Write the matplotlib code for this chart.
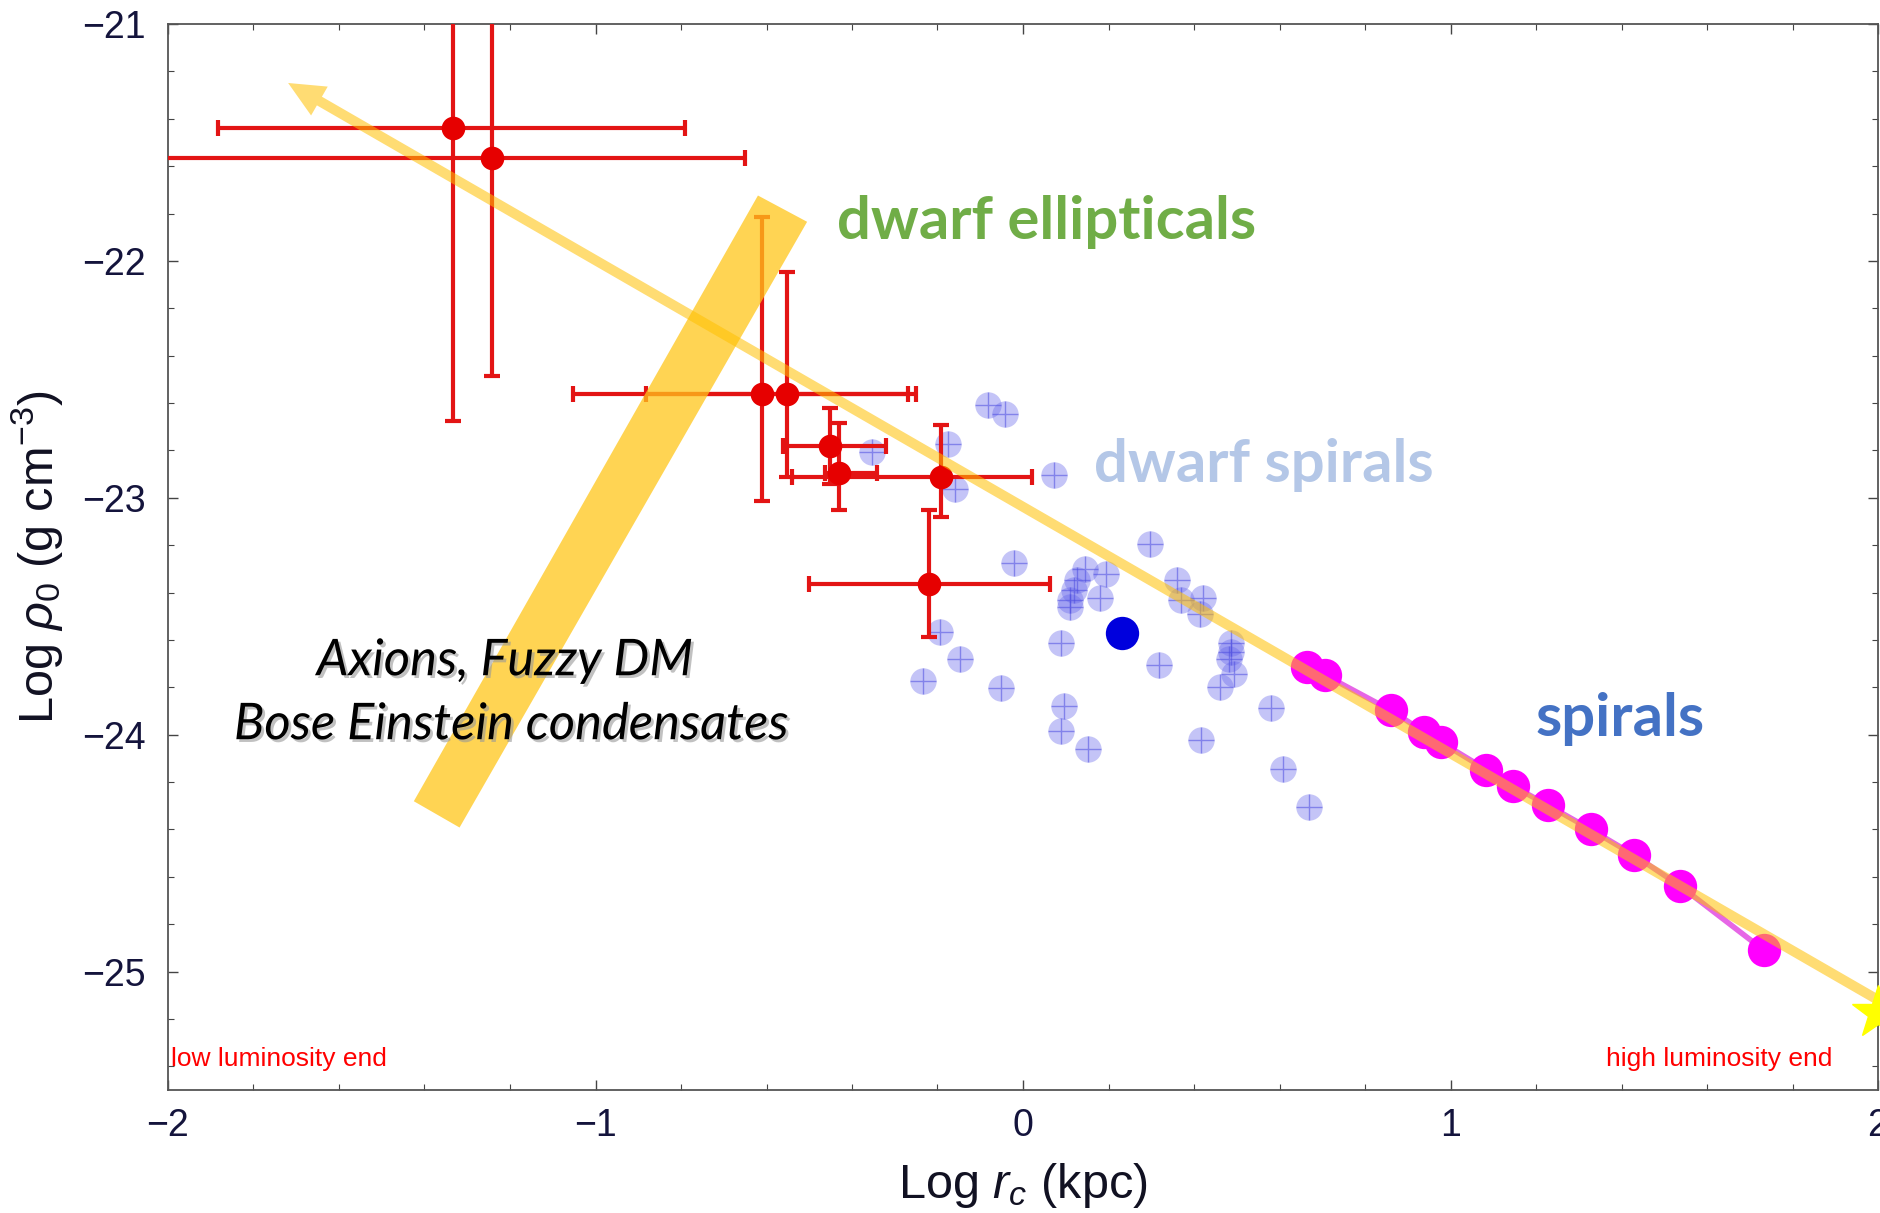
import matplotlib.pyplot as plt
import matplotlib.patheffects as pe
from matplotlib.patches import Polygon
from matplotlib.ticker import MultipleLocator

plt.rcParams['font.family'] = ['Liberation Sans', 'DejaVu Sans']
plt.rcParams['mathtext.fontset'] = 'custom'
plt.rcParams['mathtext.rm'] = 'Liberation Sans'
plt.rcParams['mathtext.it'] = 'Liberation Sans:italic'

# dwarf ellipticals: log r_c, log rho_0 and asymmetric errors
de_x = [-1.333, -1.241, -0.611, -0.551, -0.451, -0.430, -0.191, -0.220]
de_y = [-21.438, -21.567, -22.563, -22.563, -22.782, -22.895, -22.912, -23.362]
de_xlo = [0.549, 0.850, 0.441, 0.332, 0.110, 0.033, 0.350, 0.280]
de_xhi = [0.542, 0.591, 0.343, 0.300, 0.130, 0.088, 0.211, 0.282]
de_ylo = [1.237, 0.920, 0.450, 0.349, 0.160, 0.157, 0.169, 0.225]
de_yhi = [1.240, 0.920, 0.747, 0.517, 0.159, 0.211, 0.219, 0.310]

# dwarf spirals
ds_x = [-0.082, -0.043, -0.354, -0.176, -0.160, 0.073, -0.020, 0.296, 0.144, 0.195,
        0.127, 0.119, 0.111, 0.111, 0.181, 0.361, 0.370, 0.421, 0.414, 0.487,
        0.487, 0.482, 0.494, 0.461, 0.090, 0.318, -0.195, -0.148, -0.233, -0.051,
        0.095, 0.088, 0.153, 0.416, 0.579, 0.609, 0.670]
ds_y = [-22.609, -22.648, -22.806, -22.775, -22.961, -22.905, -23.275, -23.197, -23.299, -23.320,
        -23.348, -23.390, -23.432, -23.461, -23.425, -23.348, -23.430, -23.425, -23.489, -23.615,
        -23.651, -23.679, -23.742, -23.799, -23.615, -23.707, -23.566, -23.679, -23.775, -23.803,
        -23.880, -23.984, -24.062, -24.024, -23.887, -24.143, -24.305]

# single highlighted galaxy
hl_x, hl_y = 0.231, -23.570

# spirals
sp_x = [0.665, 0.707, 0.860, 0.938, 0.977, 1.084, 1.147, 1.228, 1.328, 1.430, 1.536, 1.733]
sp_y = [-23.714, -23.749, -23.897, -23.988, -24.031, -24.148, -24.218, -24.298, -24.400,
        -24.509, -24.637, -24.910]

# brightest end
star_x, star_y = 2.0, -25.177

# axion / fuzzy DM band corners
band_x = [-1.425, -1.318, -0.505, -0.620]
band_y = [-24.281, -24.392, -21.835, -21.724]

# trend arrow (head, tail)
arrow_head = (-1.719, -21.249)
arrow_tail = (2.10, -25.224)

fig = plt.figure(figsize=(18.8, 12.13), dpi=100)
ax = fig.add_axes([168 / 1880, 123 / 1213, 1710 / 1880, 1066 / 1213])

ax.plot(ds_x, ds_y, 'o', ms=19, mfc=(0.40, 0.40, 0.92, 0.38), mec='none', zorder=2)
ax.plot(ds_x, ds_y, '+', ms=19, mew=1.0, color=(0.30, 0.30, 0.88, 0.55), zorder=2)
ax.plot(hl_x, hl_y, 'o', ms=24, color='#0000dd', mec='none', zorder=3)

ax.plot(sp_x, sp_y, '-', color='#e040e0', lw=4, alpha=0.8, zorder=3)
ax.plot(sp_x, sp_y, 'o', ms=24, color='#ff00ff', mec='none', zorder=3)

ax.errorbar(de_x, de_y, xerr=[de_xlo, de_xhi], yerr=[de_ylo, de_yhi], fmt='o', ms=17,
            color='#e60000', mec='none', ecolor='#e31414', elinewidth=3, capsize=6, capthick=3,
            zorder=4)

ax.add_patch(Polygon(list(zip(band_x, band_y)), closed=True, fc='#ffc61a', ec='none',
                     alpha=0.75, zorder=5))

ax.annotate('', xy=arrow_head, xytext=arrow_tail, annotation_clip=False,
            arrowprops=dict(arrowstyle='simple,head_length=1.3,head_width=1.2,tail_width=0.36',
                            mutation_scale=20, lw=0, fc='#ffc000', ec='none', alpha=0.55,
                            shrinkA=0, shrinkB=0),
            zorder=6)

ax.plot(star_x, star_y, marker='*', ms=40, color='#ffff00', mec='#ffff00', clip_on=False,
        zorder=7)

ax.text(-0.435, -21.836, 'dwarf ellipticals', color='#70ad47', fontsize=43, fontweight='bold',
        family='Lato', va='center', ha='left', zorder=8)
ax.text(0.165, -22.863, 'dwarf spirals', color='#b4c7e7', fontsize=43, fontweight='bold',
        family='Lato', va='center', ha='left', zorder=8)
ax.text(1.200, -23.935, 'spirals', color='#4472c4', fontsize=43, fontweight='bold',
        family='Lato', va='center', ha='left', zorder=8)

shadow = [pe.withSimplePatchShadow(offset=(2, -2), shadow_rgbFace='#999999', alpha=0.6)]
ax.text(-1.212, -23.69, 'Axions, Fuzzy DM', fontsize=36.5, style='italic', family='Lato',
        ha='center', va='center', color='black', path_effects=shadow, zorder=8)
ax.text(-1.197, -23.96, 'Bose Einstein condensates', fontsize=36.5, style='italic',
        family='Lato', ha='center', va='center', color='black', path_effects=shadow, zorder=8)

ax.text(-1.993, -25.40, 'low luminosity end', color='red', fontsize=19,
        ha='left', va='baseline', zorder=8)
ax.text(1.893, -25.40, 'high luminosity end', color='red', fontsize=19,
        ha='right', va='baseline', zorder=8)

ax.set_xlim(-2, 2)
ax.set_ylim(-25.5, -21)
ax.xaxis.set_major_locator(MultipleLocator(1))
ax.xaxis.set_minor_locator(MultipleLocator(0.2))
ax.yaxis.set_major_locator(MultipleLocator(1))
ax.yaxis.set_minor_locator(MultipleLocator(0.2))
ax.tick_params(which='both', direction='in', top=True, right=True, color='#444444')
ax.tick_params(which='major', length=7, width=1.0, labelsize=27, labelcolor='#14143c')
ax.tick_params(which='minor', length=4, width=0.8)
ax.tick_params(axis='x', pad=13)
ax.tick_params(axis='y', pad=16)
for s in ax.spines.values():
    s.set_color('#555555')
    s.set_linewidth(1.3)

ax.set_xlabel(r'Log $r_c$ (kpc)', fontsize=35, color='#111122', labelpad=12)
ax.set_ylabel(r'Log $\rho_0$ (g cm$^{-3}$)', fontsize=35, color='#111122', labelpad=12)

fig.savefig('out.png', dpi=100)
